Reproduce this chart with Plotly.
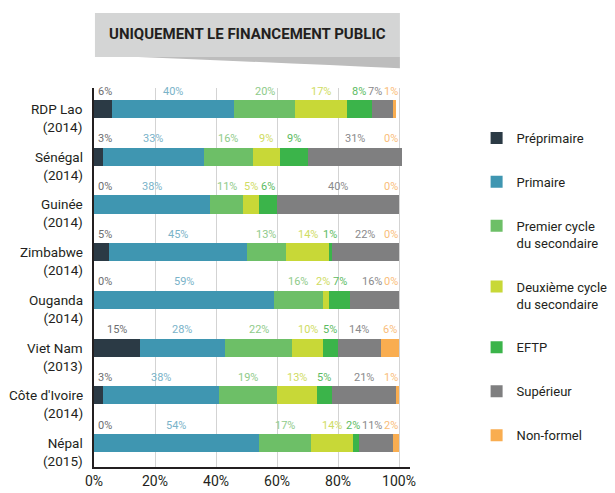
import plotly.graph_objects as go

# données (part des dépenses publiques, %)
pays = ["RDP Lao<br>(2014)", "Sénégal<br>(2014)", "Guinée<br>(2014)", "Zimbabwe<br>(2014)",
        "Ouganda<br>(2014)", "Viet Nam<br>(2013)", "Côte d'Ivoire<br>(2014)", "Népal<br>(2015)"]
prepri = [6, 3, 0, 5, 0, 15, 3, 0]
primaire = [40, 33, 38, 45, 59, 28, 38, 54]
premier_cycle = [20, 16, 11, 13, 16, 22, 19, 17]
deuxieme_cycle = [17, 9, 5, 14, 2, 10, 13, 14]
eftp = [8, 9, 6, 1, 7, 5, 5, 2]
superieur = [7, 31, 40, 22, 16, 14, 21, 11]
non_formel = [1, 0, 0, 0, 0, 6, 1, 2]
ticks_x = [0, 20, 40, 60, 80, 100]

noms = ["Préprimaire", "Primaire", "Premier cycle<br>du secondaire",
        "Deuxième cycle<br>du secondaire", "EFTP", "Supérieur", "Non-formel"]
series = [prepri, primaire, premier_cycle, deuxieme_cycle, eftp, superieur, non_formel]
couleurs = ["#2b3a45", "#3f96b1", "#6dbf67", "#c8d837", "#3bb44a", "#7f7f80", "#f9ad50"]
couleurs_txt = ["#6d6e70", "#7ab3c9", "#8fcb8a", "#cfdc62", "#5cbb62", "#8a8a8b", "#f9bd7a"]

FONT = "Roboto"
idx = list(range(len(pays)))

fig = go.Figure()
for nom, vals, c in zip(noms, series, couleurs):
    fig.add_trace(go.Bar(y=idx, x=vals, name=nom, orientation="h",
                         marker=dict(color=c, line=dict(width=0)),
                         width=0.38, legendgroup=nom, hoverinfo="skip"))

# étiquettes de valeurs au-dessus des barres (centrées, avec anti-chevauchement)
px_per = 305 / 100.0
annots = []
for i in idx:
    vals = [s[i] for s in series]
    starts, acc = [], 0
    for v in vals:
        starts.append(acc)
        acc += v
    txts = [f"{v}%" for v in vals]
    w = [((len(t) - 1) * 6.1 + 8.2) / px_per for t in txts]
    c = [s + v / 2 for s, v in zip(starts, vals)]
    gap = 0.6
    for k in range(len(c)):
        c[k] = max(c[k], 1.2 + w[k] / 2)
        c[k] = min(c[k], 99.8 - w[k] / 2)
    for k in range(len(c) - 2, -1, -1):
        lim = c[k + 1] - w[k + 1] / 2 - gap - w[k] / 2
        if c[k] > lim:
            c[k] = lim
    for k in range(1, len(c)):
        lim = c[k - 1] + w[k - 1] / 2 + gap + w[k] / 2
        if c[k] < lim:
            c[k] = lim
    for k, t in enumerate(txts):
        annots.append(dict(x=c[k], y=i, xref="x", yref="y", text=t, showarrow=False,
                           yshift=18, font=dict(family=FONT, size=11, color=couleurs_txt[k])))
    annots.append(dict(x=-0.028, y=i, xref="paper", yref="y", text=pays[i], showarrow=False,
                       xanchor="right", yanchor="top", yshift=10, align="right",
                       font=dict(family=FONT, size=13.5, color="#231f20")))

annots.append(dict(x=0.486, y=1.142, xref="paper", yref="paper", xanchor="center",
                   yanchor="middle", text="<b>UNIQUEMENT LE FINANCEMENT PUBLIC</b>",
                   showarrow=False, font=dict(family=FONT, size=15, color="#231f20")))

# la page ajoute une marge de 8 px : figure de 607 x 485
fig.update_layout(
    width=607, height=485,
    margin=dict(l=86, r=205, t=80, b=26),
    paper_bgcolor="white", plot_bgcolor="white",
    barmode="stack",
    font=dict(family=FONT, size=14, color="#231f20"),
    annotations=annots,
    showlegend=True,
    legend=dict(xref="container", yref="container", x=0.772, y=1 - 115 / 485,
                xanchor="left", yanchor="top", traceorder="grouped", maxheight=400,
                tracegroupgap=24, valign="top", font=dict(family=FONT, size=13, color="#231f20"),
                itemclick=False),
    shapes=[
        dict(type="path", xref="paper", yref="paper",
             path="M 0.14,1.082 L 0.968,1.082 L 0.968,1.052 Q 0.6,1.066 0.14,1.082 Z",
             fillcolor="#bdbdbd", line=dict(width=0), layer="above"),
        dict(type="rect", xref="paper", yref="paper", x0=0.003, x1=0.968, y0=1.082, y1=1.198,
             fillcolor="#d4d5d5", line=dict(width=0), layer="above"),
    ],
)
fig.update_xaxes(range=[0, 103.6], tickvals=ticks_x, ticktext=[f"{t}%" for t in ticks_x],
                 showgrid=True, gridcolor="#d3d3d3", gridwidth=1, zeroline=False,
                 showline=True, linecolor="#231f20", linewidth=2, automargin=False,
                 tickfont=dict(family=FONT, size=14, color="#231f20"), ticks="")
fig.update_yaxes(range=[7.5, -0.44], showticklabels=False, showgrid=False, zeroline=False,
                 showline=True, linecolor="#231f20", linewidth=2, ticks="", automargin=False)

fig.write_html("out.html")
